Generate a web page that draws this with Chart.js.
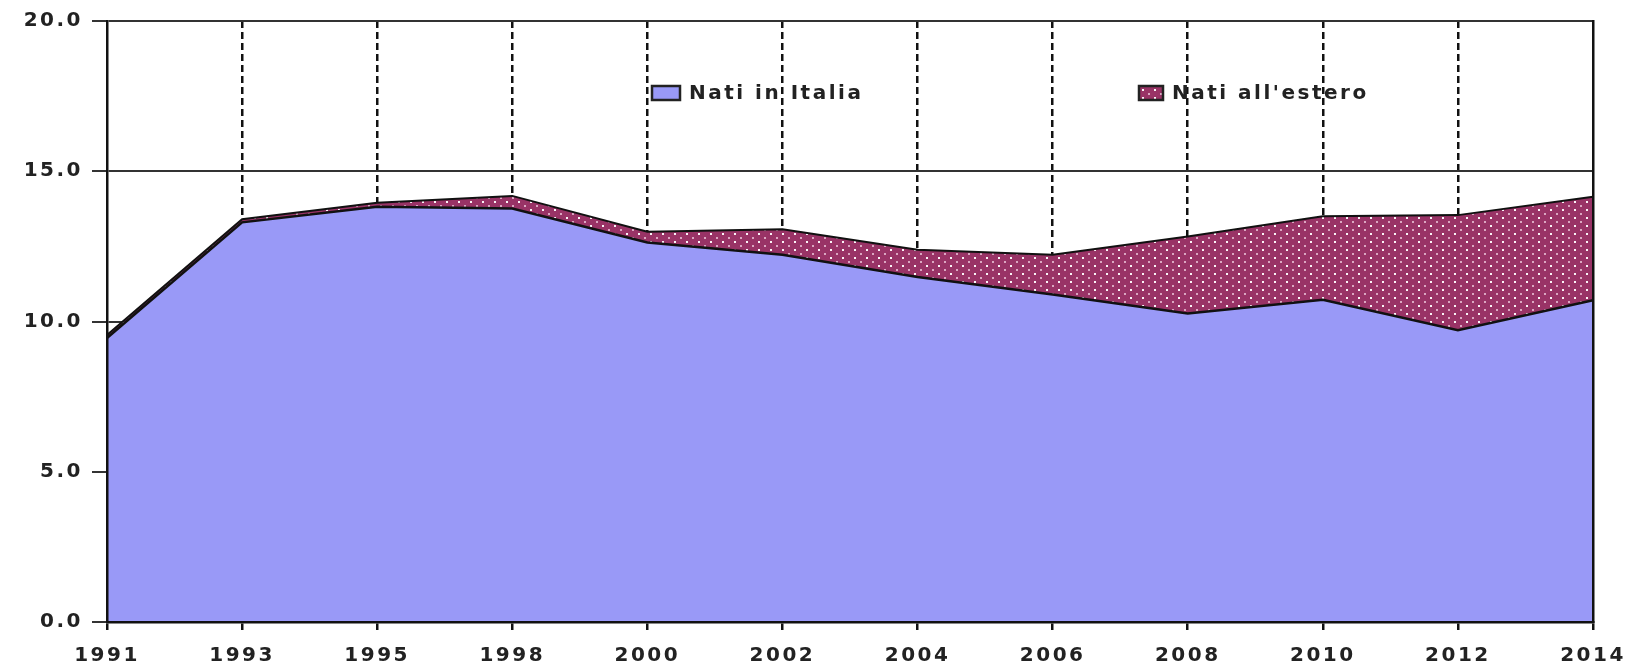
<!DOCTYPE html>
<html lang="it">
<head>
    <meta charset="UTF-8">
    <title>Nati in Italia / Nati all'estero</title>
    <style>
        body { margin: 0; background: #fff; }
        .wrap { width: 1633px; height: 667px; }
    </style>
</head>
<body>
    <div class="wrap"><canvas id="natiChart"></canvas></div>
    <script src="https://cdn.jsdelivr.net/npm/chart.js"></script>
    <script>
// dati
const anni = ['1991', '1993', '1995', '1998', '2000', '2002', '2004', '2006', '2008', '2010', '2012', '2014'];
const natiItalia = [9.45, 13.3, 13.82, 13.76, 12.63, 12.22, 11.48, 10.9, 10.27, 10.72, 9.71, 10.71];
const natiEstero = [0.1, 0.1, 0.13, 0.42, 0.36, 0.85, 0.91, 1.32, 2.56, 2.78, 3.83, 3.44];
const yTicks = [0, 5, 10, 15, 20];

// trama a puntini per i nati all'estero
function dotPattern() {
    const c = document.createElement('canvas');
    c.width = 12;
    c.height = 8;
    const p = c.getContext('2d');
    p.fillStyle = '#993366';
    p.fillRect(0, 0, 12, 8);
    p.fillStyle = 'rgba(255,255,255,0.95)';
    p.fillRect(2, 1, 2, 2);
    p.fillStyle = 'rgba(255,230,245,0.65)';
    p.fillRect(8, 5, 2, 2);
    return p.createPattern(c, 'repeat');
}

Chart.defaults.font.family = '"DejaVu Sans", sans-serif';
Chart.defaults.font.weight = 'bold';
Chart.defaults.font.size = 20;
Chart.defaults.color = '#222';

const spacing = {
    id: 'spacing',
    beforeLayout(chart) { chart.ctx.letterSpacing = '2.5px'; },
    beforeDraw(chart) { chart.ctx.letterSpacing = '2.5px'; }
};

// legenda dentro l'area del grafico
const innerLegend = {
    id: 'innerLegend',
    afterDraw(chart) {
        const ctx = chart.ctx;
        const xs = [652, 1139];
        const y = 86;
        ctx.save();
        ctx.letterSpacing = '2.5px';
        ctx.font = 'bold 20px "DejaVu Sans"';
        ctx.textBaseline = 'middle';
        chart.data.datasets.forEach((ds, i) => {
            const w = i === 0 ? 28 : 24;
            ctx.fillStyle = ds.backgroundColor;
            ctx.fillRect(xs[i], y, w, 14);
            ctx.lineWidth = 2.5;
            ctx.strokeStyle = '#222';
            ctx.strokeRect(xs[i], y, w, 14);
            ctx.fillStyle = '#222';
            ctx.fillText(ds.label, xs[i] + w + 9, y + 8);
        });
        ctx.restore();
    }
};

const ctx = document.getElementById('natiChart').getContext('2d');
const natiChart = new Chart(ctx, {
    type: 'line',
    data: {
        labels: anni,
        datasets: [{
            label: 'Nati in Italia',
            data: natiItalia,
            backgroundColor: '#9999f7',
            borderColor: '#111',
            borderWidth: 2.5,
            fill: 'origin',
            pointRadius: 0,
            tension: 0
        }, {
            label: "Nati all'estero",
            data: natiEstero,
            backgroundColor: dotPattern(),
            borderColor: '#111',
            borderWidth: 2,
            fill: '-1',
            pointRadius: 0,
            tension: 0
        }]
    },
    options: {
        responsive: true,
        maintainAspectRatio: false,
        animation: false,
        layout: { padding: { top: 16, right: 40, left: 0, bottom: 0 } },
        plugins: {
            legend: { display: false },
            tooltip: { enabled: false }
        },
        scales: {
            x: {
                grid: {
                    // niente tratteggio sopra gli assi verticali
                    color: c => (c.index === 0 || c.index === anni.length - 1) ? 'rgba(0,0,0,0)' : '#111',
                    lineWidth: 2.5,
                    tickLength: 8,
                    tickColor: '#111'
                },
                border: {
                    display: true,
                    color: '#111',
                    width: 2.5,
                    z: 1,
                    dash: [7, 4]
                },
                ticks: {
                    padding: 14,
                    maxRotation: 0,
                    autoSkip: false
                },
                afterFit: scale => {
                    scale.height = 45;
                    scale.paddingLeft = 0;
                    scale.paddingRight = 40;
                }
            },
            y: {
                stacked: true,
                min: 0,
                max: 20,
                afterBuildTicks: scale => { scale.ticks = yTicks.map(v => ({ value: v })); },
                grid: {
                    color: '#333',
                    lineWidth: 2,
                    tickLength: 15,
                    tickColor: '#333'
                },
                border: { display: true, color: '#111', width: 2.5, z: 1 },
                ticks: {
                    padding: 9,
                    callback: v => Number(v).toFixed(1)
                },
                afterFit: scale => { scale.width = 107; }
            },
            y2: {
                position: 'right',
                min: 0,
                max: 20,
                grid: { display: false },
                ticks: { display: false },
                border: { display: true, color: '#111', width: 2.5, z: 1 },
                afterFit: scale => { scale.width = 0; }
            }
        }
    },
    plugins: [spacing, innerLegend]
});
    </script>
</body>
</html>
